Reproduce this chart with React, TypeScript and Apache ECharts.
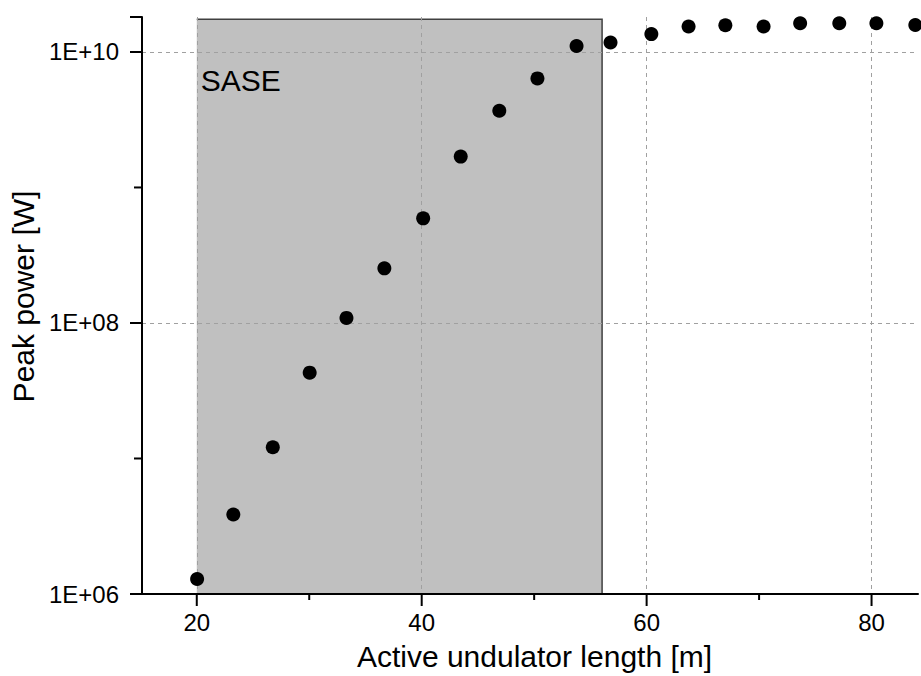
import React, { useEffect, useRef } from 'react';
import * as echarts from 'echarts';

// ---- data ----
const lengths = [20.03, 23.25, 26.76, 30.04, 33.31, 36.68, 40.13, 43.47, 46.9, 50.29, 53.77, 56.79, 60.42, 63.73, 67.0, 70.4, 73.65, 77.13, 80.43, 83.89];
const powers = [1.29e6, 3.86e6, 1.21e7, 4.3e7, 1.09e8, 2.53e8, 5.92e8, 1.69e9, 3.68e9, 6.38e9, 1.107e10, 1.175e10, 1.355e10, 1.54e10, 1.575e10, 1.54e10, 1.63e10, 1.63e10, 1.63e10, 1.58e10];
const xMajorTicks = [20, 40, 60, 80];
const xMinorTicks = [30, 50, 70];
const yMinorTicks = [1e7, 1e9];
const xTickLabels = ['20', '40', '60', '80'];
const yTickLabels = ['1E+06', '1E+08', '1E+10'];
const saseStart = 20;
const saseEnd = 56.04;
const saseBottom = 1e6;
const saseTop = 1.74e10;
const regionLabel = 'SASE';
const xTitle = 'Active undulator length [m]';
const yTitle = 'Peak power [W]';

const X_MIN = 15.13;
const X_MAX = 84.13;
const Y_MIN = 1e6;
const Y_MAX = 1.811e10;
const FONT = 'Liberation Sans, Arial, sans-serif';

export default function App() {
  const ref = useRef<HTMLDivElement>(null);
  useEffect(() => {
    if (!ref.current) return;
    const chart = echarts.init(ref.current, undefined, { renderer: 'svg' });
    const points = lengths.map((x, i) => [x, powers[i]]);
    const option: any = {
      animation: false,
      backgroundColor: '#ffffff',
      grid: { left: 142, right: 0, top: 17, bottom: 76.5, containLabel: false },
      xAxis: {
        type: 'value',
        min: X_MIN,
        max: X_MAX,
        splitNumber: 3,
        z: 1,
        name: xTitle,
        nameLocation: 'middle',
        nameGap: 47,
        nameTextStyle: { fontFamily: FONT, fontSize: 30, color: '#000', padding: [0, 0, 0, 9] },
        axisLine: { show: true, onZero: false, lineStyle: { color: '#000', width: 2 } },
        axisTick: { show: false },
        minorTick: { show: false },
        axisLabel: {
          margin: 16,
          fontFamily: FONT,
          fontSize: 24,
          color: '#000',
          formatter: (v: number) => {
            const s = String(Math.round(v * 1000) / 1000);
            return xTickLabels.includes(s) ? s : '';
          },
        },
        splitLine: { show: true, showMinLine: false, showMaxLine: false, lineStyle: { color: '#a0a0a0', width: 1, type: [4, 4] } },
      },
      yAxis: {
        type: 'log',
        logBase: 10,
        min: Y_MIN,
        max: Y_MAX,
        interval: 2,
        z: 1,
        name: yTitle,
        nameLocation: 'middle',
        nameGap: 98,
        nameTextStyle: { fontFamily: FONT, fontSize: 30, color: '#000', padding: [0, 0, 0, 18] },
        axisLine: { show: true, onZero: false, lineStyle: { color: '#000', width: 2 } },
        axisTick: { show: true, length: 12, lineStyle: { color: '#000', width: 2 } },
        minorTick: { show: false },
        axisLabel: {
          margin: 23,
          fontFamily: FONT,
          fontSize: 24,
          color: '#000',
          formatter: (v: number) => {
            const e = Math.log10(v);
            const r = Math.round(e);
            if (Math.abs(e - r) > 1e-6) return '';
            const s = '1E+' + String(r).padStart(2, '0');
            return yTickLabels.includes(s) ? s : '';
          },
        },
        splitLine: { show: true, showMinLine: false, showMaxLine: false, lineStyle: { color: '#a0a0a0', width: 1, type: [4, 4] } },
      },
      series: [
        {
          type: 'custom',
          z: 0,
          silent: true,
          encode: { x: [0, 2], y: [1, 3] },
          data: [[saseStart, saseBottom, saseEnd, saseTop]],
          renderItem: (params: any, api: any) => {
            const p0 = api.coord([api.value(0), api.value(1)]);
            const p1 = api.coord([api.value(2), api.value(3)]);
            return {
              type: 'group',
              children: [
                {
                  type: 'rect',
                  shape: { x: p0[0], y: p1[1], width: p1[0] - p0[0], height: p0[1] - p1[1] },
                  style: { fill: '#c0c0c0' },
                },
                {
                  type: 'polyline',
                  shape: { points: [[p0[0], p1[1]], [p1[0], p1[1]], [p1[0], p0[1]]] },
                  style: { stroke: '#404040', lineWidth: 1.5, fill: null },
                },
                {
                  type: 'text',
                  x: p0[0] + 4,
                  y: p1[1] + 46,
                  style: { text: regionLabel, font: `30px ${FONT}`, fill: '#000', textVerticalAlign: 'top' },
                },
              ],
            };
          },
        },
        {
          type: 'scatter',
          z: 3,
          symbol: 'circle',
          symbolSize: 14,
          itemStyle: { color: '#000', opacity: 1 },
          data: points,
        },
      ],
    };
    chart.setOption(option);

    // tick marks placed with the chart's own axis scales
    const toX = (v: number) => Number(chart.convertToPixel({ xAxisIndex: 0 }, v));
    const toY = (v: number) => Number(chart.convertToPixel({ yAxisIndex: 0 }, v));
    let yBase = toY(Y_MIN);
    if (!isFinite(yBase)) {
      // one decade above the axis minimum, extrapolated down by one decade
      const y7 = toY(yMinorTicks[0]);
      const y9 = toY(yMinorTicks[1]);
      yBase = y7 + (y7 - y9) / 2;
    }
    const xLeft = toX(X_MIN);
    const tickEls: any[] = [];
    const addX = (v: number, len: number) => {
      const px = toX(v);
      if (!isFinite(px) || !isFinite(yBase)) return;
      tickEls.push({
        type: 'rect',
        z: 20,
        silent: true,
        shape: { x: px - 1, y: yBase, width: 2, height: len },
        style: { fill: '#000' },
      });
    };
    const addY = (v: number, len: number) => {
      const py = toY(v);
      if (!isFinite(py) || !isFinite(xLeft)) return;
      tickEls.push({
        type: 'rect',
        z: 20,
        silent: true,
        shape: { x: xLeft - len, y: py - 1, width: len, height: 2 },
        style: { fill: '#000' },
      });
    };
    xMajorTicks.forEach((v) => addX(v, 12));
    xMinorTicks.forEach((v) => addX(v, 6));
    yMinorTicks.forEach((v) => addY(v, 8));
    chart.setOption({ graphic: tickEls });

    return () => chart.dispose();
  }, []);
  return <div ref={ref} style={{ position: 'fixed', left: 0, top: 0, width: 921, height: 676 }} />;
}
